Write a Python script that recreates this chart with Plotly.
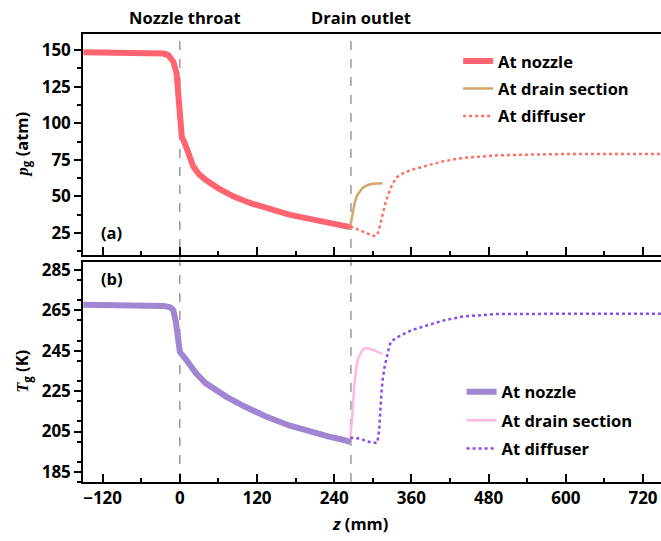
import plotly.graph_objects as go

# ---------------- data ----------------
# (a) gas pressure p_g (atm) vs z (mm)
z_nozzle_p = [-150, -120, -80, -40, -25, -18, -10, -5, -2.6, 0, 3, 8, 14, 21, 30, 41, 60, 83, 110, 135, 170, 200, 233, 250, 265]
p_nozzle = [148.6, 148.4, 148.2, 148.0, 147.6, 146.6, 142, 134, 116, 96, 91, 86, 78, 70.3, 65, 61, 55.5, 50, 45.3, 42, 37.5, 34.8, 31.8, 30.5, 29]

z_drain_p = [265, 268, 272, 276, 284, 292, 300, 315]
p_drain = [29.5, 38, 46, 51, 55.7, 57.8, 58.6, 59]

z_diff_p = [265, 275, 285, 295, 302, 307, 310, 313, 316, 320, 324, 330, 337, 350, 361, 387, 410, 439, 491, 550, 600, 748]
p_diff = [29.5, 27.5, 25.5, 24, 22.9, 23.5, 28, 34, 40, 46, 51, 58, 63, 66.5, 68.3, 71.6, 74, 76.2, 78, 78.6, 78.9, 79]

# (b) gas temperature T_g (K) vs z (mm)
z_nozzle_T = [-150, -120, -80, -40, -25, -15, -10, -6, -3, -1, 0, 10, 25, 40, 72, 100, 134, 170, 200, 232, 255, 265]
T_nozzle = [267.8, 267.7, 267.6, 267.4, 267.2, 266.5, 265, 259, 250, 246, 244.5, 240.5, 234, 229, 222.3, 217.5, 212.4, 208, 205, 202.5, 200.8, 199.8]

z_drain_T = [265, 268, 271, 274, 277, 283, 289, 297, 305, 315]
T_drain = [202, 212, 227, 236, 241, 245, 246.3, 245.8, 244.8, 243.5]

z_diff_T = [265, 272, 280, 290, 300, 307, 310, 312.5, 315, 318, 321, 324, 328, 340, 361, 387, 410, 439, 470, 491, 600, 748]
T_diff = [202, 201.8, 201.5, 200.2, 199.4, 199.5, 206, 220, 230, 236.5, 241, 245, 249.5, 252, 255.3, 257.8, 260, 261.9, 262.8, 263.2, 263.3, 263.3]

# reference positions
marker_z = [0, 266]
marker_labels = ["Nozzle throat", "Drain outlet"]
series_names = ["At nozzle", "At drain section", "At diffuser"]

FONT = "'Open Sans', Lato, sans-serif"
FS = 16.5
bold = dict(family=FONT, size=FS, color="black", weight="bold")
tickbold = dict(family=FONT, size=17, color="black", weight="bold")
fig = go.Figure()

# panel (a)
fig.add_trace(go.Scatter(x=z_nozzle_p, y=p_nozzle, mode="lines", name=series_names[0],
                         line=dict(color="#FF6470", width=6), legend="legend", legendgroup="a1",
                         xaxis="x", yaxis="y"))
fig.add_trace(go.Scatter(x=z_drain_p, y=p_drain, mode="lines", name=series_names[1],
                         line=dict(color="#D4A66A", width=2.5), legend="legend", legendgroup="a2",
                         xaxis="x", yaxis="y"))
fig.add_trace(go.Scatter(x=z_diff_p, y=p_diff, mode="lines", name=series_names[2],
                         line=dict(color="#FF7060", width=2.5, dash="dot"), legend="legend", legendgroup="a3",
                         xaxis="x", yaxis="y"))
# panel (b)
fig.add_trace(go.Scatter(x=z_nozzle_T, y=T_nozzle, mode="lines", name=series_names[0],
                         line=dict(color="#A086D2", width=6), legend="legend2", legendgroup="b1",
                         xaxis="x2", yaxis="y2"))
fig.add_trace(go.Scatter(x=z_drain_T, y=T_drain, mode="lines", name=series_names[1],
                         line=dict(color="#FFB8E0", width=2.5), legend="legend2", legendgroup="b2",
                         xaxis="x2", yaxis="y2"))
fig.add_trace(go.Scatter(x=z_diff_T, y=T_diff, mode="lines", name=series_names[2],
                         line=dict(color="#8A4CF0", width=2.5, dash="dot"), legend="legend2", legendgroup="b3",
                         xaxis="x2", yaxis="y2"))

XR = [-150.5, 748]
xcommon = dict(range=XR, tick0=0, dtick=120, ticks="inside", ticklen=8, tickwidth=1.5, tickcolor="black",
               minor=dict(dtick=60, ticks="inside", ticklen=4, tickwidth=1.5, tickcolor="black"),
               showline=True, linecolor="black", linewidth=1.5, mirror=True, showgrid=False, zeroline=False,
               tickfont=tickbold)
ycommon = dict(ticks="outside", ticklen=7, tickwidth=1.5, tickcolor="black",
               showline=True, linecolor="black", linewidth=1.5, mirror=False, showgrid=False, zeroline=False,
               tickfont=tickbold)

fig.update_layout(
    width=661, height=541,
    margin=dict(l=83, r=0, t=34, b=59),
    paper_bgcolor="white", plot_bgcolor="white",
    font=dict(family=FONT, size=FS, color="black"),
    xaxis=dict(anchor="y", domain=[0, 1], showticklabels=False, **xcommon),
    xaxis2=dict(anchor="y2", domain=[0, 1], showticklabels=True, **xcommon),
    yaxis=dict(anchor="x", domain=[0.507, 1], range=[10, 161], tick0=0, dtick=25,
               minor=dict(dtick=12.5, ticks="outside", ticklen=4, tickwidth=1.5, tickcolor="black"), **ycommon),
    yaxis2=dict(anchor="x2", domain=[0, 0.4917], range=[180, 289.1], tick0=185, dtick=20,
                minor=dict(dtick=10, ticks="outside", ticklen=4, tickwidth=1.5, tickcolor="black"), **ycommon),
    legend=dict(x=0.649, y=0.978, xanchor="left", yanchor="top", bgcolor="rgba(0,0,0,0)",
                font=bold, tracegroupgap=3),
    legend2=dict(x=0.655, y=0.24, xanchor="left", yanchor="top", bgcolor="rgba(0,0,0,0)",
                 font=bold, tracegroupgap=4),
    showlegend=True,
)

# dashed reference lines spanning both panels
for zm in marker_z:
    fig.add_shape(type="line", xref="x", yref="paper", x0=zm, x1=zm, y0=0, y1=1,
                  line=dict(color="#999999", width=1.5, dash="dash"), layer="below")

# labels above the plot
for zm, lab, xs in zip(marker_z, marker_labels, [5, 10]):
    fig.add_annotation(x=zm, xref="x", y=1, yref="paper", yshift=17, xshift=xs, text=lab,
                       showarrow=False, xanchor="center", yanchor="middle", font=bold)

# panel labels
fig.add_annotation(x=0, xref="paper", y=0.507, yref="paper", xshift=16, yshift=22, text="(a)",
                   showarrow=False, xanchor="left", yanchor="middle", font=bold)
fig.add_annotation(x=0, xref="paper", y=0.4917, yref="paper", xshift=16, yshift=-17, text="(b)",
                   showarrow=False, xanchor="left", yanchor="middle", font=bold)

# axis titles
fig.add_annotation(x=0, xref="paper", y=(0.507 + 1) / 2, yref="paper", xshift=-61, textangle=-90,
                   text="<span style='font-family:Liberation Serif'><i>p</i></span><sub>g</sub> (atm)",
                   showarrow=False, xanchor="center", yanchor="middle", font=bold)
fig.add_annotation(x=0, xref="paper", y=0.4917 / 2, yref="paper", xshift=-61, textangle=-90,
                   text="<span style='font-family:Liberation Serif'><i>T</i></span><sub>g</sub> (K)",
                   showarrow=False, xanchor="center", yanchor="middle", font=bold)
fig.add_annotation(x=0.4794, xref="paper", y=0, yref="paper", yshift=-41,
                   text="<i>z</i> (mm)", showarrow=False, xanchor="center", yanchor="middle", font=bold)

fig.write_html("out.html")
